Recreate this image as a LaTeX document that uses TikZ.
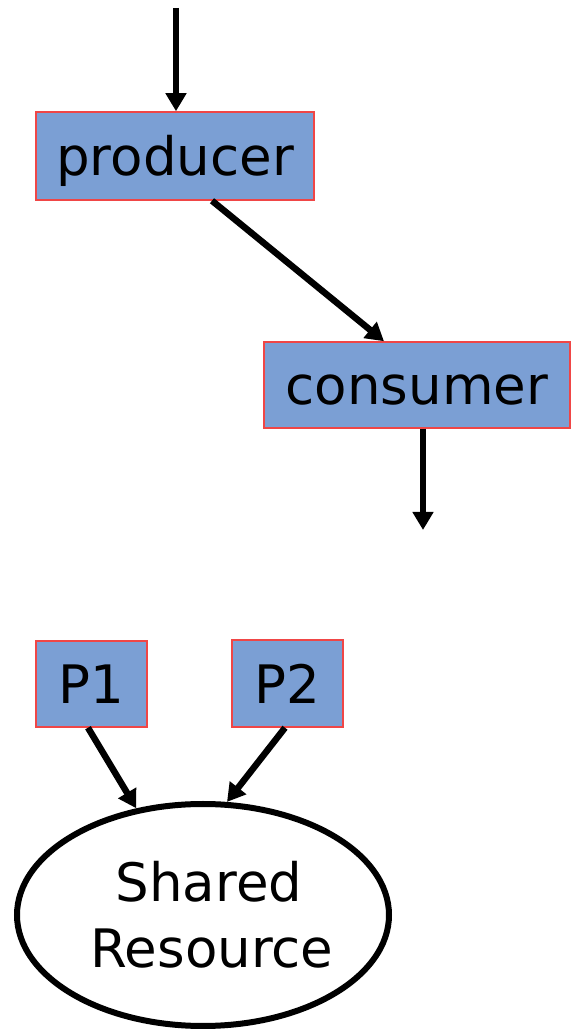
\documentclass[tikz,border=0pt]{standalone}
\usepackage{fontspec}
\setmainfont{DejaVu Sans}
\usetikzlibrary{arrows.meta,shapes.geometric}
\definecolor{boxblue}{RGB}{123,159,212}
\definecolor{boxred}{RGB}{240,70,70}
\tikzset{
  procbox/.style={draw=boxred, line width=1.5pt, fill=boxblue, inner sep=0pt, text height=40pt, text depth=0pt, font=\fontsize{53}{66}\selectfont},
  arr/.style={line width=6.5pt, -{Triangle[length=18pt,width=20pt]}},
}
\begin{document}
\begin{tikzpicture}[x=1pt,y=1pt]
\useasboundingbox (0,0) rectangle (572,1029);
\node[procbox, minimum width=278pt, minimum height=88pt] (producer) at (175,873) {producer};
\node[procbox, minimum width=306pt, minimum height=86pt] (consumer) at (417,644) {consumer};
\node[procbox, minimum width=111pt, minimum height=86pt] (p1) at (91.5,345) {P1};
\node[procbox, minimum width=111pt, minimum height=87pt] (p2) at (287.5,345.5) {P2};
\node[draw, ellipse, line width=6pt, minimum width=372pt, minimum height=222pt, inner sep=0pt, align=center, font=\fontsize{53}{66}\selectfont] (shared) at (203,114) {\hspace*{12pt}Shared\\\hspace*{18pt}Resource};
\coordinate (top) at (176,1021);
\coordinate (bottom) at (423,499);
\draw[arr] (top) -- (top |- producer.north);
\draw[arr] ([xshift=37pt]producer.south) -- ([xshift=-33pt]consumer.north);
\draw[arr] ([xshift=6pt]consumer.south) -- (bottom);
\draw[arr] ([xshift=-3.5pt]p1.south) -- (shared.122);
\draw[arr] ([xshift=-2.5pt]p2.south) -- (shared.78);
\end{tikzpicture}
\end{document}
